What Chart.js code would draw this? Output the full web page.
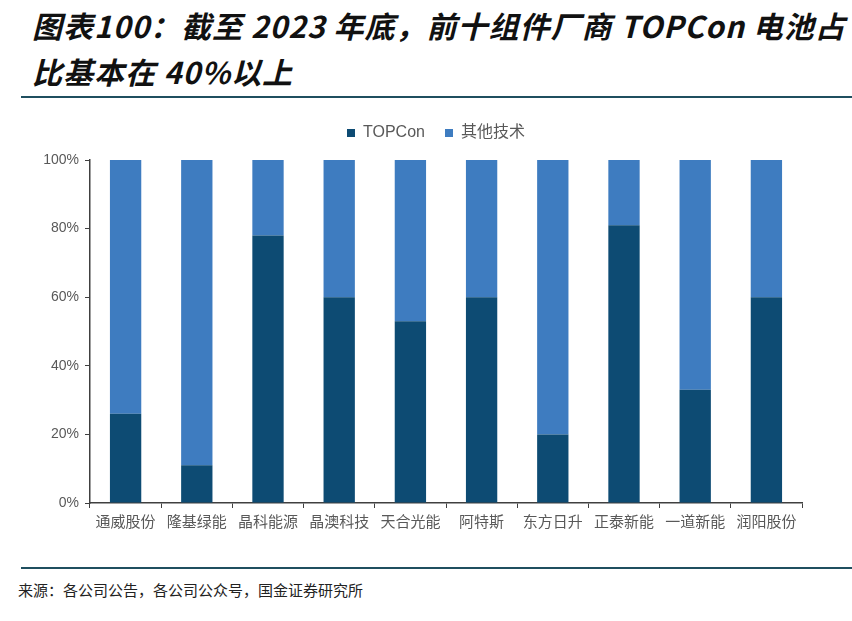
<!DOCTYPE html>
<html>
<head>
<meta charset="utf-8">
<script src="https://cdn.jsdelivr.net/npm/chart.js@4"></script>
<style>
  body { margin: 0; background: #fff; width: 852px; height: 621px; position: relative; overflow: hidden; font-family: "Noto Sans CJK SC", sans-serif; }
  .title { position: absolute; left: 32px; top: 2px; font-size: 30px; font-weight: bold; font-style: italic; line-height: 46px; letter-spacing: 1px; color: #111; white-space: nowrap; }
  .rule { position: absolute; left: 21px; right: 0; height: 2px; background: #1f4f5f; }
  .source { position: absolute; left: 18px; top: 579px; font-size: 15px; color: #222; }
  #wrap { position: absolute; left: 0; top: 100px; width: 852px; height: 440px; }
</style>
</head>
<body>
<div class="title">图表100：截至 2023 年底，前十组件厂商 TOPCon 电池占<br>比基本在 40%以上</div>
<div class="rule" style="top:96px"></div>
<div id="wrap"><canvas id="myChart"></canvas></div>
<div class="rule" style="top:567px"></div>
<div class="source">来源：各公司公告，各公司公众号，国金证券研究所</div>
<script>
const companies = ['通威股份', '隆基绿能', '晶科能源', '晶澳科技', '天合光能', '阿特斯', '东方日升', '正泰新能', '一道新能', '润阳股份'];
const topconShare = [26, 11, 78, 60, 53, 60, 20, 81, 33, 60];
const otherShare = topconShare.map(v => 100 - v);
const yTicks = [0, 20, 40, 60, 80, 100];

// legend: a bit more room below it, and nudged right like the original
const legendTweak = {
  id: 'legendTweak',
  beforeInit(chart) {
    const fit = chart.legend.fit;
    chart.legend.fit = function () {
      fit.bind(chart.legend)();
      this.height += 9;
    };
  },
  afterLayout(chart) {
    chart.legend.left += 35;
    chart.legend.right += 35;
  }
};

const ctx = document.getElementById("myChart");
const myChart = new Chart(ctx, {
  type: 'bar',
  data: {
    labels: companies,
    datasets: [{
      label: 'TOPCon',
      data: topconShare,
      backgroundColor: '#0d4b73',
      barPercentage: 0.44,
      categoryPercentage: 1
    }, {
      label: '其他技术',
      data: otherShare,
      backgroundColor: '#3e7cc0',
      barPercentage: 0.44,
      categoryPercentage: 1
    }]
  },
  options: {
    responsive: true,
    maintainAspectRatio: false,
    animation: false,
    layout: { padding: { left: 0, right: 50, top: 5, bottom: 6 } },
    plugins: {
      tooltip: { enabled: false },
      legend: {
        labels: {
          boxWidth: 8,
          boxHeight: 8,
          padding: 20,
          color: '#595959',
          font: { size: 16, family: 'Arial, "Noto Sans CJK SC"' }
        }
      }
    },
    scales: {
      x: {
        stacked: true,
        border: { color: '#404040', width: 1.5 },
        grid: { offset: true, drawOnChartArea: false, tickLength: 5, color: '#404040' },
        ticks: { color: '#595959', font: { size: 15, family: '"Noto Sans CJK SC"' }, maxRotation: 0, padding: 4 }
      },
      y: {
        stacked: true,
        min: 0,
        max: 100,
        afterFit: s => { s.width = 90; },
        afterBuildTicks: s => { s.ticks = yTicks.map(v => ({ value: v })); },
        border: { color: '#404040', width: 1.5 },
        grid: { drawOnChartArea: false, tickLength: 5, color: '#404040' },
        ticks: { color: '#595959', font: { size: 14, family: 'Arial' }, padding: 6, callback: v => v + '%' }
      }
    }
  },
  plugins: [legendTweak]
});
</script>
</body>
</html>
